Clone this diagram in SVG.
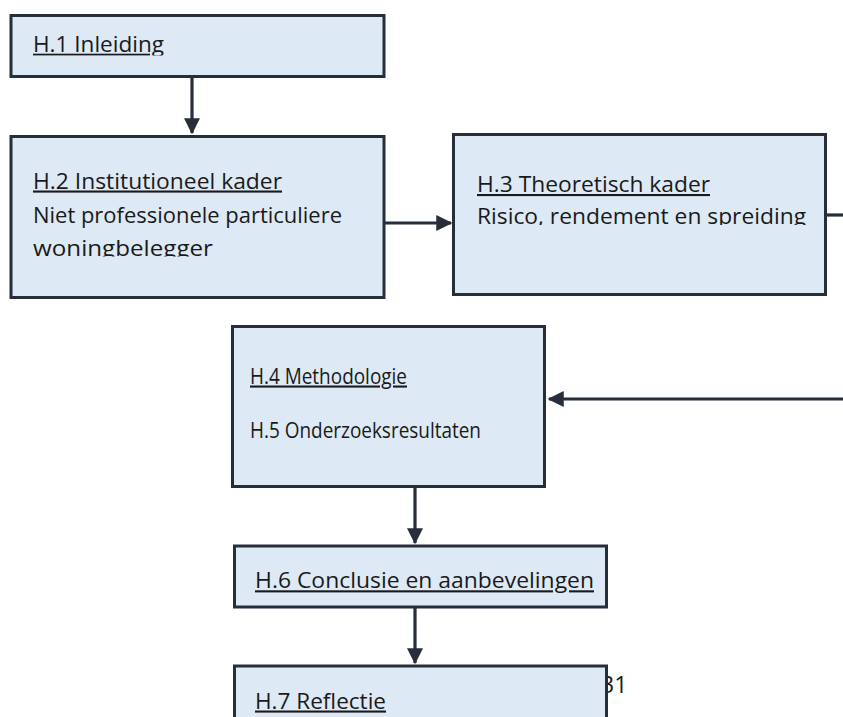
<svg xmlns="http://www.w3.org/2000/svg" width="843" height="717" viewBox="0 0 843 717">
<style>
.box{fill:#dde9f5;stroke:#262e3a;stroke-width:3}
.t{font-family:"Open Sans","Noto Sans",sans-serif;font-size:21px;fill:#1a1a1a}
.u{text-decoration:underline}
.c{stroke:#262e3a;stroke-width:3.2;fill:none}
</style>
<defs>
<marker id="ah" markerWidth="5" markerHeight="5" refX="4.6" refY="2.5" orient="auto" markerUnits="strokeWidth"><path d="M0,0 L5,2.5 L0,5 Z" fill="#262e3a"/></marker>
<clipPath id="c1"><rect x="0" y="0" width="843" height="55.5"/></clipPath>
<clipPath id="c2"><rect x="0" y="0" width="843" height="256.6"/></clipPath>
<clipPath id="c3"><rect x="0" y="0" width="843" height="225"/></clipPath>
<clipPath id="c6"><rect x="0" y="0" width="843" height="593"/></clipPath>
</defs>
<text class="t" x="601" y="693" style="font-size:23px">31</text>
<g id="connectors">
<line class="c" x1="192" y1="78" x2="192" y2="133" marker-end="url(#ah)"/>
<line class="c" x1="385" y1="223" x2="451" y2="223" marker-end="url(#ah)"/>
<line class="c" x1="827" y1="215" x2="843" y2="215"/>
<line class="c" x1="843" y1="399" x2="549" y2="399" marker-end="url(#ah)"/>
<line class="c" x1="415" y1="487" x2="415" y2="543" marker-end="url(#ah)"/>
<line class="c" x1="415" y1="608" x2="415" y2="663" marker-end="url(#ah)"/>
</g>
<g id="h1">
<rect class="box" x="11" y="15.5" width="373" height="61"/>
<text class="t u" x="33" y="51.7" textLength="131" lengthAdjust="spacingAndGlyphs" clip-path="url(#c1)">H.1 Inleiding</text>
</g>
<g id="h2">
<rect class="box" x="11" y="136.5" width="373" height="161"/>
<text class="t u" x="33" y="188.5" textLength="249" lengthAdjust="spacingAndGlyphs">H.2 Institutioneel kader</text>
<text class="t" x="33" y="222.5" textLength="309" lengthAdjust="spacingAndGlyphs">Niet professionele particuliere</text>
<text class="t" x="33" y="256" textLength="180" lengthAdjust="spacingAndGlyphs" clip-path="url(#c2)">woningbelegger</text>
</g>
<g id="h3">
<rect class="box" x="453.5" y="134.5" width="372" height="160"/>
<text class="t u" x="477" y="192" textLength="233" lengthAdjust="spacingAndGlyphs">H.3 Theoretisch kader</text>
<text class="t" x="477" y="224.3" textLength="329" lengthAdjust="spacingAndGlyphs" clip-path="url(#c3)">Risico, rendement en spreiding</text>
</g>
<g id="h4">
<rect class="box" x="232.5" y="326.5" width="312" height="160"/>
<text class="t u" x="250" y="383.5" textLength="157" lengthAdjust="spacingAndGlyphs">H.4 Methodologie</text>
<text class="t" x="250" y="438" textLength="231" lengthAdjust="spacingAndGlyphs">H.5 Onderzoeksresultaten</text>
</g>
<g id="h6">
<rect class="box" x="234.5" y="546" width="372" height="61"/>
<text class="t u" x="255" y="588.3" textLength="339" lengthAdjust="spacingAndGlyphs" clip-path="url(#c6)">H.6 Conclusie en aanbevelingen</text>
</g>
<g id="h7">
<rect class="box" x="234.5" y="666" width="372" height="80"/>
<text class="t u" x="255" y="708.5" textLength="131" lengthAdjust="spacingAndGlyphs">H.7 Reflectie</text>
</g>
</svg>
